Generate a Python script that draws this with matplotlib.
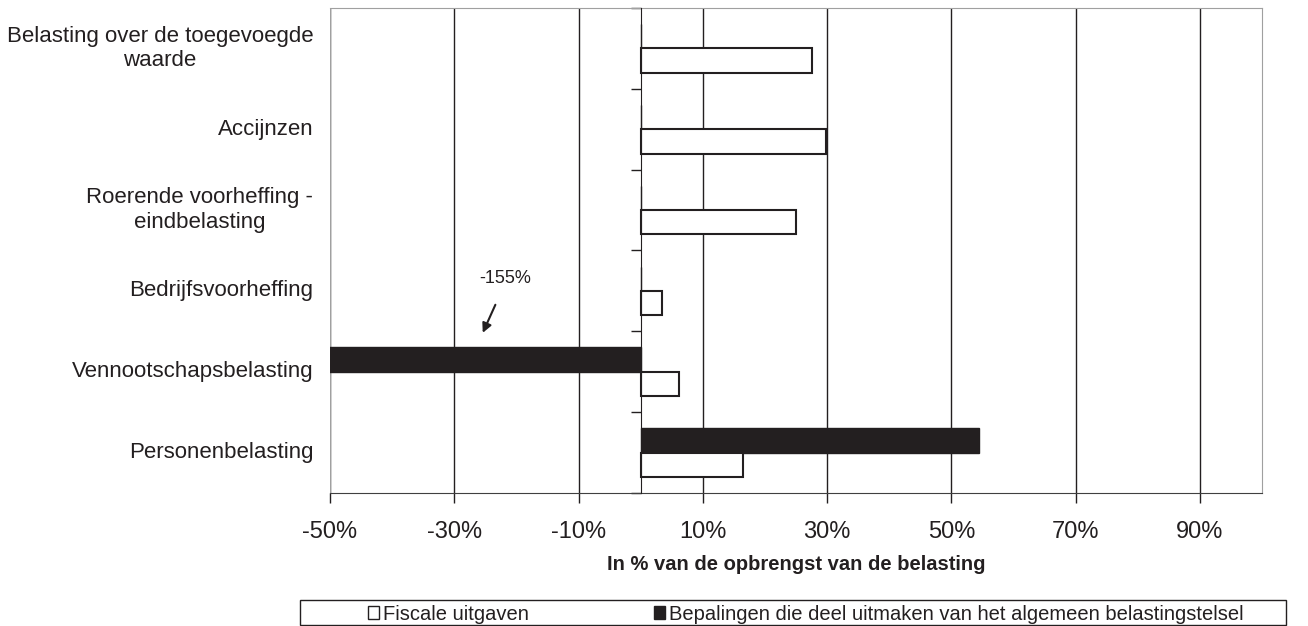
#importing
import numpy as np
import matplotlib.pyplot as plt
from matplotlib.patches import Patch, Rectangle
import matplotlib.transforms as mtransforms

plt.rcParams['font.family'] = ['Liberation Sans', 'DejaVu Sans']

#data
categories = ["Personenbelasting", "Vennootschapsbelasting", "Bedrijfsvoorheffing",
              "Roerende voorheffing -\neindbelasting", "Accijnzen",
              "Belasting over de toegevoegde\nwaarde"]
fiscale = [16.5, 6.2, 3.5, 25.0, 29.8, 27.6]       #white bars
algemeen = [54.4, -155.0, 0, 0, 0, 0]               #black bars
xticks = [-50, -30, -10, 10, 30, 50, 70, 90]
legend_labels = ["Fiscale uitgaven",
                 "Bepalingen die deel uitmaken van het algemeen belastingstelsel"]

dark = '#231f20'

#figure
fig = plt.figure(figsize=(13.08, 6.26), dpi=100)
ax = fig.add_axes([0.2523, 0.2125, 0.9648 - 0.2523, 0.9872 - 0.2125])

y = np.arange(len(categories))
h = 0.3
ax.barh(y + h / 2, algemeen, height=h, color=dark, edgecolor=dark, lw=1, zorder=3)
ax.barh(y - h / 2, fiscale, height=h, color='white', edgecolor=dark, lw=1.5, zorder=3)

ax.set_xlim(-50, 100)
ax.set_ylim(-0.5, len(categories) - 0.5)

#grid + frame
ax.set_xticks(xticks)
ax.set_xticklabels([f"{t}%" for t in xticks], fontsize=17)
ax.xaxis.grid(True, color=dark, lw=1)
ax.set_axisbelow(True)
ax.tick_params(axis='x', length=7, width=1, direction='out', pad=13, colors=dark)
ax.spines['top'].set_color('#a0a0a0')
ax.spines['right'].set_color('#a0a0a0')
ax.spines['bottom'].set_color('#404040')
ax.spines['left'].set_position(('data', 0))
ax.spines['left'].set_color(dark)
ax.spines['left'].set_zorder(4)
ax.axvline(ax.get_xlim()[0], color='#a0a0a0', lw=1.5, zorder=1)

ax.set_yticks(np.arange(-0.5, len(categories), 1.0))
ax.set_yticklabels([])
ax.tick_params(axis='y', length=7, width=1, direction='out', colors=dark)

trans = mtransforms.blended_transform_factory(ax.transAxes, ax.transData)
for yi, lab in zip(y, categories):
    ax.text(-0.018, yi, lab, transform=trans, ha='right', va='center',
            multialignment='center', fontsize=16, color=dark)

ax.set_xlabel("In % van de opbrengst van de belasting", fontsize=14.5,
              fontweight='bold', labelpad=9, color=dark)

#annotation for clipped bar
ax.annotate('', xy=(-25.6, 1.45), xytext=(-23.2, 1.86),
            arrowprops=dict(arrowstyle='-|>', color=dark, lw=1.5, mutation_scale=14))
ax.text(-21.8, 2.15, "-155%", ha='center', va='center', fontsize=13, color=dark)

#legend box
fig.patches.append(Rectangle((0.229, 0.002), 0.754, 0.0395, transform=fig.transFigure,
                             fill=False, edgecolor=dark, lw=1))
handles = [Patch(facecolor='white', edgecolor=dark, lw=1),
           Patch(facecolor=dark, edgecolor=dark, lw=1)]
leg = fig.legend(handles, legend_labels, loc='center left', ncol=2,
                 bbox_to_anchor=(0.2813, 0.019), frameon=False,
                 fontsize=14.5, handlelength=0.55, handleheight=0.55,
                 handletextpad=0.2, columnspacing=6.2, borderpad=0, borderaxespad=0)
for t in leg.get_texts():
    t.set_color(dark)

fig.savefig("out.png", dpi=100)
